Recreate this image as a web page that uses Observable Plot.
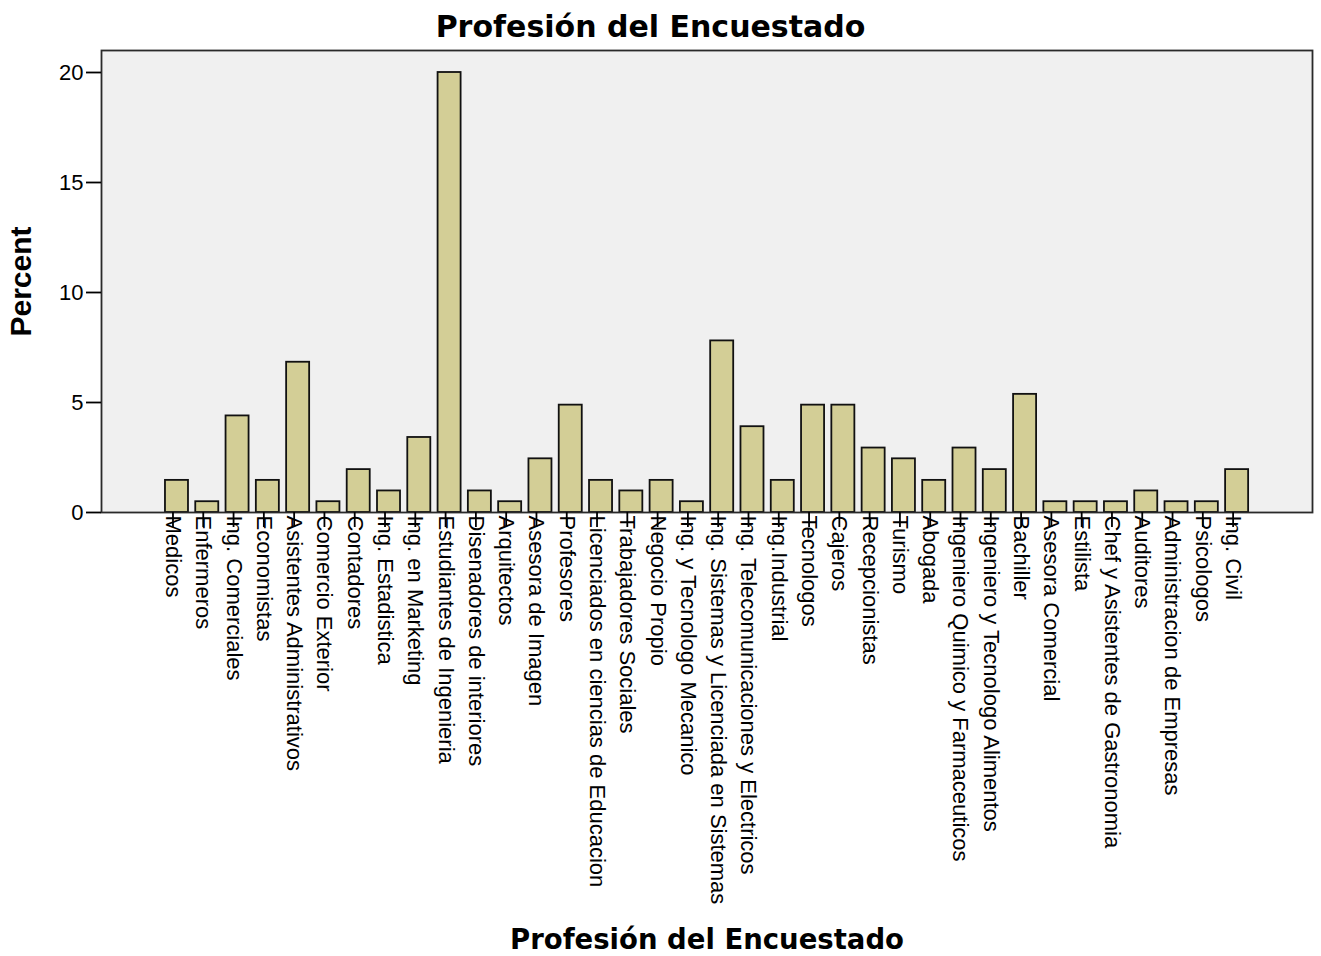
<!DOCTYPE html>
<html><head><meta charset="utf-8">
<script src="https://cdn.jsdelivr.net/npm/d3@7"></script>
<script src="https://cdn.jsdelivr.net/npm/@observablehq/plot@0.6"></script>
<style>body{margin:0;background:#fff;}</style>
</head><body><div id="chart"></div>
<script>
const categories = [
  "Medicos", "Enfermeros", "Ing. Comerciales", "Economistas", "Asistentes Administrativos",
  "Comercio Exterior", "Contadores", "Ing. Estadistica", "Ing. en Marketing", "Estudiantes de Ingenieria",
  "Disenadores de interiores", "Arquitectos", "Asesora de Imagen", "Profesores",
  "Licenciados en ciencias de Educacion", "Trabajadores Sociales", "Negocio Propio",
  "Ing. y Tecnologo Mecanico", "Ing. Sistemas y Licenciada en Sistemas",
  "Ing. Telecomunicaciones y Electricos", "Ing.Industrial", "Tecnologos", "Cajeros",
  "Recepcionistas", "Turismo", "Abogada", "Ingeniero Quimico y Farmaceuticos",
  "Ingeniero y Tecnologo Alimentos", "Bachiller", "Asesora Comercial", "Estilista",
  "Chef y Asistentes de Gastronomia", "Auditores", "Administracion de Empresas", "Psicologos", "Ing. Civil"
];
const percents = [
  1.46, 0.49, 4.39, 1.46, 6.83,
  0.49, 1.95, 0.98, 3.41, 20.0,
  0.98, 0.49, 2.44, 4.88,
  1.46, 0.98, 1.46,
  0.49, 7.80,
  3.90, 1.46, 4.88, 4.88,
  2.93, 2.44, 1.46, 2.93,
  1.95, 5.37, 0.49, 0.49,
  0.49, 0.98, 0.49, 0.49, 1.95
];
const yTicks = [0, 5, 10, 15, 20];
const chartTitle = "Profesión del Encuestado";
const xTitle = "Profesión del Encuestado";
const yTitle = "Percent";

const data = categories.map((c, i) => ({category: c, percent: percents[i]}));

const chart = Plot.plot({
  width: 1321,
  height: 956,
  marginTop: 50,
  marginBottom: 444,
  marginLeft: 101,
  marginRight: 9,
  style: {fontFamily: "'Liberation Sans', Arial, sans-serif", background: "#ffffff", color: "#000"},
  x: {domain: categories, padding: 0.24, round: false, insetLeft: 56.7, insetRight: 56.6, label: null},
  y: {domain: [0, 21], label: null},
  marks: [
    Plot.frame({fill: "#f0f0f0", stroke: "none"}),
    Plot.barY(data, {x: "category", y: "percent", fill: "#d3ce96", stroke: "#111", strokeWidth: 1.8}),
    Plot.frame({stroke: "#2a2a2a", strokeWidth: 1.8}),
    Plot.axisY({ticks: yTicks, tickSize: 15, tickPadding: 3, fontSize: 22, label: null, strokeWidth: 1.8}),
    Plot.axisX({tickSize: 15, tickRotate: 90, tickPadding: -12, fontSize: 22, dx: -4, label: null, strokeWidth: 1.8}),
    Plot.text([chartTitle], {frameAnchor: "top", lineAnchor: "middle", textAnchor: "middle", dx: -56.5, dy: -23, fontSize: 30, fontWeight: "bold", fontFamily: "'DejaVu Sans', sans-serif"}),
    Plot.text([xTitle], {frameAnchor: "bottom", lineAnchor: "middle", textAnchor: "middle", dy: 428, fontSize: 27.5, fontWeight: "bold", fontFamily: "'DejaVu Sans', sans-serif"}),
    Plot.text([yTitle], {frameAnchor: "left", lineAnchor: "middle", textAnchor: "middle", dx: -80.5, rotate: -90, fontSize: 30, fontWeight: "bold"})
  ]
});
document.getElementById("chart").appendChild(chart);
</script>
</body></html>
